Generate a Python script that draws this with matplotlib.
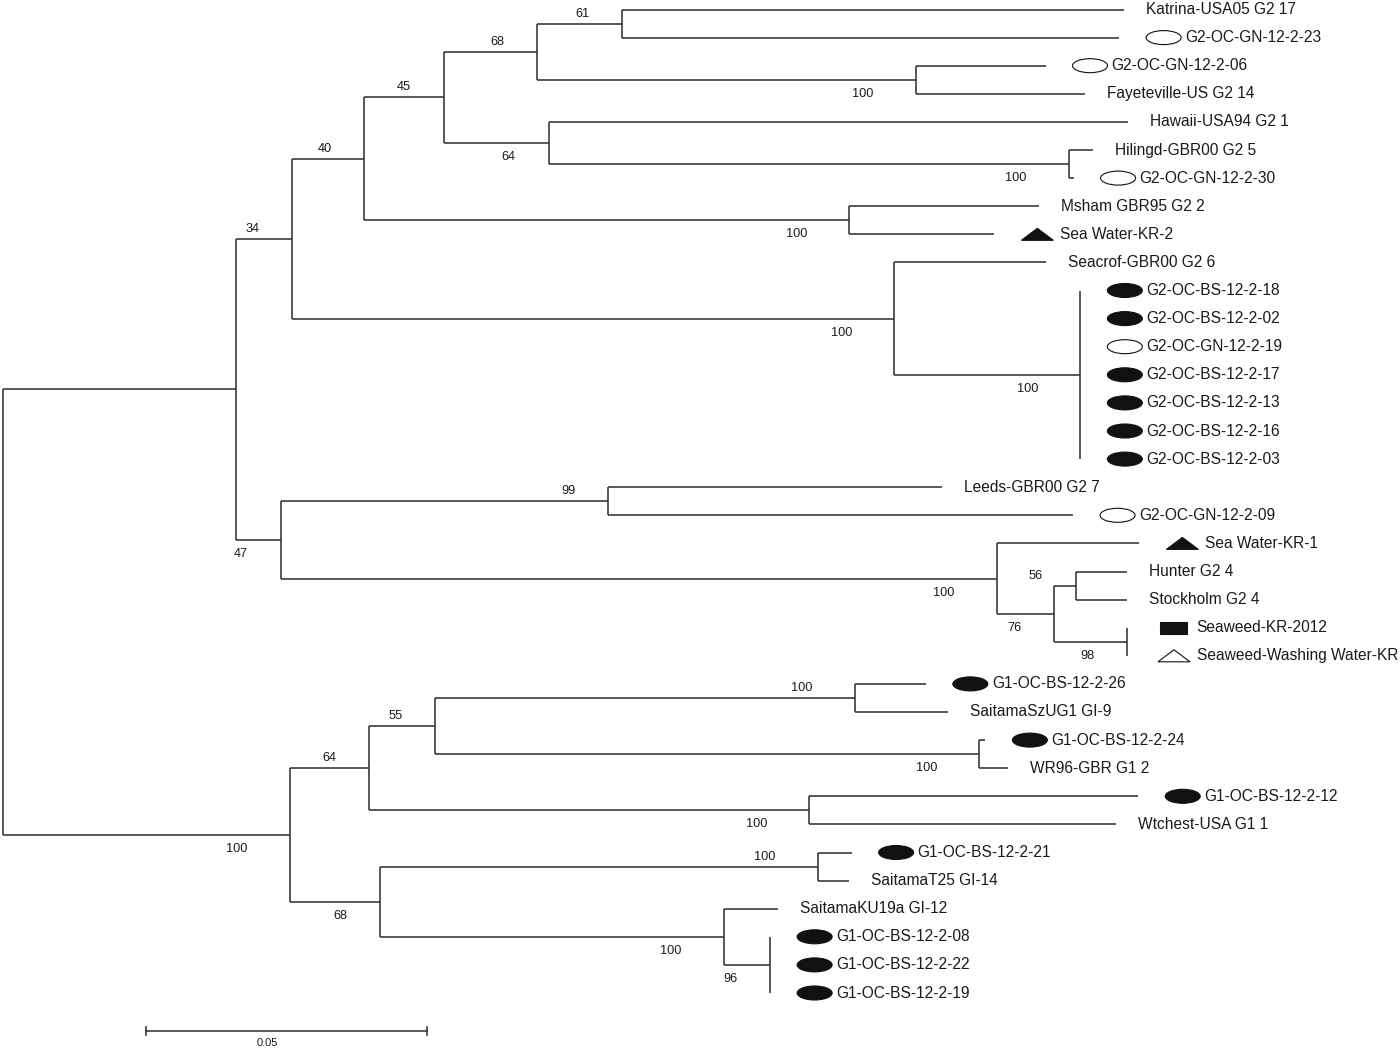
import matplotlib
matplotlib.use("Agg")
import matplotlib.pyplot as plt
from matplotlib.patches import Ellipse, Polygon, Rectangle

# ---------------- data ----------------
leaf_names = [
    "Katrina-USA05 G2 17", "G2-OC-GN-12-2-23", "G2-OC-GN-12-2-06", "Fayeteville-US G2 14",
    "Hawaii-USA94 G2 1", "Hilingd-GBR00 G2 5", "G2-OC-GN-12-2-30", "Msham GBR95 G2 2",
    "Sea Water-KR-2", "Seacrof-GBR00 G2 6", "G2-OC-BS-12-2-18", "G2-OC-BS-12-2-02",
    "G2-OC-GN-12-2-19", "G2-OC-BS-12-2-17", "G2-OC-BS-12-2-13", "G2-OC-BS-12-2-16",
    "G2-OC-BS-12-2-03", "Leeds-GBR00 G2 7", "G2-OC-GN-12-2-09", "Sea Water-KR-1",
    "Hunter G2 4", "Stockholm G2 4", "Seaweed-KR-2012", "Seaweed-Washing Water-KR",
    "G1-OC-BS-12-2-26", "SaitamaSzUG1 GI-9", "G1-OC-BS-12-2-24", "WR96-GBR G1 2",
    "G1-OC-BS-12-2-12", "Wtchest-USA G1 1", "G1-OC-BS-12-2-21", "SaitamaT25 GI-14",
    "SaitamaKU19a GI-12", "G1-OC-BS-12-2-08", "G1-OC-BS-12-2-22", "G1-OC-BS-12-2-19",
]
# marker codes: '' none, 'oe' open ellipse, 'fe' filled ellipse,
# 'ft' filled triangle, 'ot' open triangle, 'fr' filled rectangle
leaf_markers = [
    "", "oe", "oe", "", "", "", "oe", "", "ft", "",
    "fe", "fe", "oe", "fe", "fe", "fe", "fe",
    "", "oe", "ft", "", "", "fr", "ot",
    "fe", "", "fe", "", "fe", "", "fe", "", "", "fe", "fe", "fe",
]

# clades (Newick; leaves referenced by index in leaf_names; label = bootstrap)
clade_E = "(0:0.0893,1:0.0884)61:0.0151"
clade_F = "(2:0.0231,3:0.0301)100:0.0673"
clade_D = f"({clade_E},{clade_F})68:0.0167"
clade_H = "(5:0.0044,6:0.0009)100:0.0925"
clade_G = f"(4:0.1030,{clade_H})64:0.0187"
clade_C = f"({clade_D},{clade_G})45:0.0141"
clade_I = "(7:0.0338,8:0.0258)100:0.0863"
clade_B = f"({clade_C},{clade_I})40:0.0128"
clade_K = "(10:0,11:0,12:0,13:0,14:0,15:0,16:0)100:0.0331"
clade_J = f"(9:0.0269,{clade_K})100:0.1071"
clade_A = f"({clade_B},{clade_J})34:0.0100"
clade_L = "(17:0.0594,18:0.0827)99:0.0582"
clade_O = "(20:0.0091,21:0.0091)56:0.0039"
clade_P = "(22:0,23:0)98:0.0130"
clade_N = f"({clade_O},{clade_P})76:0.0101"
clade_M = f"(19:0.0253,{clade_N})100:0.1274"
clade_L2 = f"({clade_L},{clade_M})47:0.0080"
clade_G2 = f"({clade_A},{clade_L2}):0.0415"
clade_U = "(24:0.0126,25:0.0165)100:0.0747"
clade_V = "(26:0.0011,27:0.0052)100:0.0968"
clade_S = f"({clade_U},{clade_V})55:0.0117"
clade_W = "(28:0.0585,29:0.0546)100:0.0783"
clade_R = f"({clade_S},{clade_W})64:0.0141"
clade_X = "(30:0.0060,31:0.0055)100:0.0779"
clade_Z = "(33:0,34:0,35:0)96:0.0082"
clade_Y = f"(32:0.0096,{clade_Z})100:0.0612"
clade_T = f"({clade_X},{clade_Y})68:0.0160"
clade_G1 = f"({clade_R},{clade_T})100:0.0511"
tree_newick = f"({clade_G2},{clade_G1});"

scale_length = 0.05
scale_label = "0.05"
scale_start = 0.0255

# ---------------- parsing ----------------
def parse_newick(s):
    s = s.replace(" ", "")
    pos = 0

    def node():
        nonlocal pos
        n = {"children": [], "leaf": None, "bs": "", "bl": 0.0}
        if s[pos] == "(":
            pos += 1
            while True:
                n["children"].append(node())
                if s[pos] == ",":
                    pos += 1
                    continue
                if s[pos] == ")":
                    pos += 1
                    break
            st = pos
            while pos < len(s) and s[pos] not in ":,);":
                pos += 1
            n["bs"] = s[st:pos]
        else:
            st = pos
            while s[pos] not in ":,);":
                pos += 1
            n["leaf"] = int(s[st:pos])
        if pos < len(s) and s[pos] == ":":
            pos += 1
            st = pos
            while s[pos] not in ",);":
                pos += 1
            n["bl"] = float(s[st:pos])
        return n

    return node()

root = parse_newick(tree_newick)

counter = [0]
def layout(n, x0):
    n["x"] = x0 + n["bl"]
    if n["leaf"] is not None:
        n["y"] = counter[0]
        counter[0] += 1
    else:
        for c in n["children"]:
            layout(c, n["x"])
        n["y"] = 0.5 * (n["children"][0]["y"] + n["children"][-1]["y"])
root["bl"] = 0.0
layout(root, 0.0)

# ---------------- figure ----------------
PX_PER_UNIT = 5620.0
ROW_PX = 28.1
X0_PX = 3.0
Y0_PX = 9.5
W, H = 1400, 1050

fig = plt.figure(figsize=(W / 100, H / 100), dpi=100)
ax = fig.add_axes([0, 0, 1, 1])
ax.set_xlim(-X0_PX / PX_PER_UNIT, (W - X0_PX) / PX_PER_UNIT)
ax.set_ylim((H - Y0_PX) / ROW_PX, -Y0_PX / ROW_PX)
ax.axis("off")

def dx(px):
    return px / PX_PER_UNIT

def dy(px):
    return px / ROW_PX

LINE_C = "#333333"
LW = 1.15
FONT = ["Liberation Sans", "DejaVu Sans"]
TXT_C = "#1a1a1a"
LEAF_FS = 11.2

def draw(n, parent=None, idx=0):
    if parent is not None and n["bl"] > 0:
        ax.plot([parent["x"], n["x"]], [n["y"], n["y"]], color=LINE_C, lw=LW,
                solid_capstyle="butt")
    if n["children"]:
        ax.plot([n["x"], n["x"]], [n["children"][0]["y"], n["children"][-1]["y"]],
                color=LINE_C, lw=LW, solid_capstyle="butt")
        for i, c in enumerate(n["children"]):
            draw(c, n, i)
        if n["bs"]:
            L = len(n["bs"])
            tx = n["x"] - dx(14 + 13 * L)
            ty = n["y"] - dy(10) if idx == 0 else n["y"] + dy(14)
            ax.text(tx, ty, n["bs"], ha="center", va="center", fontsize=9.2,
                    family=FONT, color=TXT_C)
    else:
        i = n["leaf"]
        m = leaf_markers[i]
        x, y = n["x"], n["y"]
        if m == "":
            ax.text(x + dx(22), y, leaf_names[i], ha="left", va="center",
                    fontsize=LEAF_FS, family=FONT, color=TXT_C)
            return
        if m in ("oe", "fe"):
            w, h = 35, 14
            left = x + dx(27)
            fc = "white" if m == "oe" else "#111111"
            ax.add_patch(Ellipse((left + dx(w / 2), y), dx(w), dy(h), facecolor=fc,
                                 edgecolor="#111111", lw=0.8))
            tx = left + dx(w + 4)
        elif m in ("ft", "ot"):
            w, h = 32, 12
            left = x + dx(27 if m == "ft" else 31)
            fc = "#111111" if m == "ft" else "white"
            ax.add_patch(Polygon([(left, y + dy(h / 2)), (left + dx(w), y + dy(h / 2)),
                                  (left + dx(w / 2), y - dy(h / 2))], closed=True,
                                 facecolor=fc, edgecolor="#111111", lw=0.8))
            tx = left + dx(w + 7)
        else:  # filled rectangle
            w, h = 27, 12
            left = x + dx(33)
            ax.add_patch(Rectangle((left, y - dy(h / 2)), dx(w), dy(h),
                                   facecolor="#111111", edgecolor="#111111", lw=0.8))
            tx = left + dx(w + 9)
        ax.text(tx, y, leaf_names[i], ha="left", va="center", fontsize=LEAF_FS,
                family=FONT, color=TXT_C)

draw(root)

# scale bar
sb_y = dy(1031 - Y0_PX)
ax.plot([scale_start, scale_start + scale_length], [sb_y, sb_y], color=LINE_C, lw=LW)
for xx in (scale_start, scale_start + scale_length):
    ax.plot([xx, xx], [sb_y - dy(4), sb_y + dy(4)], color=LINE_C, lw=LW)
ax.text(scale_start + dx(121), sb_y + dy(12), scale_label, ha="center",
        va="center", fontsize=8, family=FONT, color=TXT_C)

fig.savefig("out.png", dpi=100, facecolor="white")
